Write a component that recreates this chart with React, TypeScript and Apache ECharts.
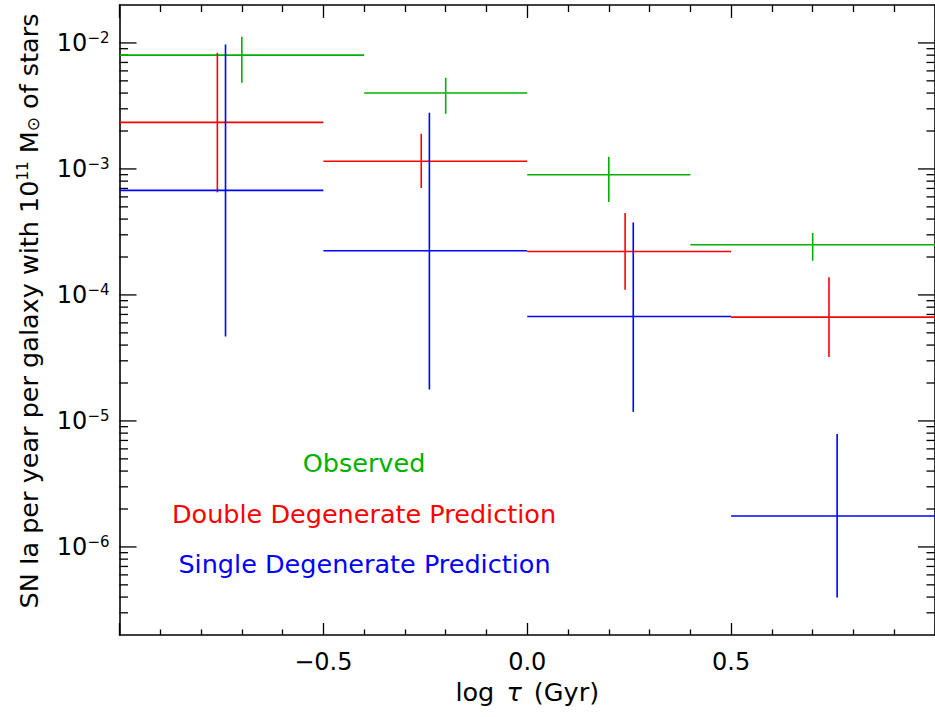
import React, { useEffect, useRef } from 'react';
import * as echarts from 'echarts';

// ---- Data ----
const obsBinStart = [-1.0, -0.4, 0.0, 0.4];
const obsBinEnd = [-0.4, 0.0, 0.4, 1.0];
const obsRate = [8.0e-3, 4.0e-3, 9.0e-4, 2.5e-4];
const obsErrX = [-0.7, -0.2, 0.2, 0.7];
const obsErrLow = [4.83e-3, 2.74e-3, 5.47e-4, 1.87e-4];
const obsErrHigh = [1.12e-2, 5.29e-3, 1.25e-3, 3.1e-4];

const ddBinStart = [-1.0, -0.5, 0.0, 0.5];
const ddBinEnd = [-0.5, 0.0, 0.5, 1.0];
const ddRate = [2.34e-3, 1.15e-3, 2.21e-4, 6.67e-5];
const ddErrX = [-0.76, -0.26, 0.24, 0.74];
const ddErrLow = [6.52e-4, 7.06e-4, 1.1e-4, 3.21e-5];
const ddErrHigh = [8.36e-3, 1.9e-3, 4.47e-4, 1.38e-4];

const sdBinStart = [-1.0, -0.5, 0.0, 0.5];
const sdBinEnd = [-0.5, 0.0, 0.5, 1.0];
const sdRate = [6.76e-4, 2.24e-4, 6.74e-5, 1.76e-6];
const sdErrX = [-0.74, -0.24, 0.26, 0.76];
const sdErrLow = [4.67e-5, 1.78e-5, 1.18e-5, 3.96e-7];
const sdErrHigh = [9.73e-3, 2.79e-3, 3.76e-4, 7.87e-6];

// ---- Axis ticks / labels ----
const xMin = -1;
const xMax = 1;
const xTickLabelValues = [-0.5, 0, 0.5];
const yMin = 2e-7;
const yMax = 2e-2;
const yMajorExponents = [-6, -5, -4, -3, -2];
const yMinorMantissas = [2, 3, 4, 5, 6, 7, 8, 9];
const yMinorExponents = [-7, -6, -5, -4, -3, -2];

const seriesNames = ['Observed', 'Double Degenerate Prediction', 'Single Degenerate Prediction'];
const seriesColors = ['#00b000', '#ff0000', '#0000ff'];

const FONT = 'DejaVu Sans';
const MINUS = '\u2212';

function rows(start: number[], end: number[], rate: number[], ex: number[], lo: number[], hi: number[]) {
  return start.map((s, i) => [s, end[i], rate[i], ex[i], lo[i], hi[i]]);
}

function binSeries(name: string, color: string, data: number[][]) {
  return {
    type: 'custom',
    name,
    xAxisIndex: 0,
    yAxisIndex: 0,
    silent: true,
    encode: { x: [0, 1, 3], y: [2, 4, 5] },
    data,
    renderItem: (params: any, api: any) => {
      const a = api.coord([api.value(0), api.value(2)]);
      const b = api.coord([api.value(1), api.value(2)]);
      const lo = api.coord([api.value(3), api.value(4)]);
      const hi = api.coord([api.value(3), api.value(5)]);
      return {
        type: 'group',
        children: [
          { type: 'line', shape: { x1: a[0], y1: a[1], x2: b[0], y2: b[1] }, style: { stroke: color, lineWidth: 1.6 } },
          { type: 'line', shape: { x1: lo[0], y1: lo[1], x2: hi[0], y2: hi[1] }, style: { stroke: color, lineWidth: 1.6 } },
        ],
      };
    },
  };
}

const yTickSeries = {
  type: 'custom',
  xAxisIndex: 0,
  yAxisIndex: 0,
  silent: true,
  encode: { x: 0, y: 1 },
  data: [[0, 1e-3]],
  renderItem: (params: any, api: any) => {
    const children: any[] = [];
    const add = (v: number, len: number) => {
      const l = api.coord([xMin, v]);
      const r = api.coord([xMax, v]);
      children.push({ type: 'line', shape: { x1: l[0], y1: l[1], x2: l[0] + len, y2: l[1] }, style: { stroke: '#000', lineWidth: 1.3 } });
      children.push({ type: 'line', shape: { x1: r[0] - len, y1: r[1], x2: r[0], y2: r[1] }, style: { stroke: '#000', lineWidth: 1.3 } });
    };
    yMajorExponents.forEach((e) => add(Math.pow(10, e), 17));
    yMinorExponents.forEach((e) => {
      yMinorMantissas.forEach((m) => {
        const v = m * Math.pow(10, e);
        if (v > yMin * 1.0001 && v < yMax * 0.9999) add(v, 8.5);
      });
    });
    return { type: 'group', children };
  },
};

export default function App() {
  const ref = useRef<HTMLDivElement>(null);
  useEffect(() => {
    if (!ref.current) return;
    const chart = echarts.init(ref.current, null, { renderer: 'svg' });
    const xLabel = (v: number) => {
      if (!xTickLabelValues.some((t) => Math.abs(t - v) < 1e-9)) return '';
      const s = Math.abs(v).toFixed(1);
      return v < 0 ? MINUS + s : s;
    };
    const yLabel = (v: number) => {
      const e = Math.log10(v);
      const r = Math.round(e);
      if (Math.abs(e - r) > 1e-6 || !yMajorExponents.includes(r)) return '';
      return `{b|10}{s|${r < 0 ? MINUS + Math.abs(r) : r}}`;
    };
    const axisLineStyle = { color: '#000', width: 1.6 };
    const option: any = {
      animation: false,
      backgroundColor: '#fff',
      grid: { left: 119.5, top: 5, width: 820, height: 630, containLabel: false },
      xAxis: [
        {
          type: 'value',
          position: 'bottom',
          min: xMin,
          max: xMax,
          interval: 0.5,
          axisLine: { show: true, onZero: false, lineStyle: axisLineStyle },
          axisTick: { show: true, inside: true, length: 12, lineStyle: { color: '#000', width: 1.3 } },
          minorTick: { show: true, splitNumber: 5, length: 5.5, lineStyle: { color: '#000', width: 1.3 } },
          splitLine: { show: false },
          minorSplitLine: { show: false },
          axisLabel: { formatter: xLabel, fontFamily: FONT, fontSize: 24, color: '#000', margin: 15, showMinLabel: false, showMaxLabel: false },
          name: '{n|log }{i|\u03c4}{n| (Gyr)}',
          nameLocation: 'middle',
          nameGap: 38,
          nameTextStyle: {
            rich: {
              n: { fontFamily: FONT, fontSize: 25.5, color: '#000' },
              i: { fontFamily: FONT, fontSize: 25.5, color: '#000', fontStyle: 'italic', padding: [0, 4, 0, 4] },
            },
          },
        },
        {
          type: 'value',
          position: 'top',
          min: xMin,
          max: xMax,
          interval: 0.5,
          axisLine: { show: true, onZero: false, lineStyle: axisLineStyle },
          axisTick: { show: true, inside: true, length: 13, lineStyle: { color: '#000', width: 1.3 } },
          minorTick: { show: true, splitNumber: 5, length: 7, lineStyle: { color: '#000', width: 1.3 } },
          splitLine: { show: false },
          minorSplitLine: { show: false },
          axisLabel: { show: false },
        },
      ],
      yAxis: [
        {
          type: 'log',
          logBase: 10,
          position: 'left',
          min: yMin,
          max: yMax,
          axisLine: { show: true, onZero: false, lineStyle: axisLineStyle },
          axisTick: { show: false },
          minorTick: { show: false },
          splitLine: { show: false },
          minorSplitLine: { show: false },
          axisLabel: {
            formatter: yLabel,
            margin: 10,
            showMinLabel: false,
            showMaxLabel: false,
            rich: {
              b: { fontFamily: FONT, fontSize: 24, color: '#000', lineHeight: 24 },
              s: { fontFamily: FONT, fontSize: 15, color: '#000', verticalAlign: 'top', lineHeight: 6 },
            },
          },
          name: '{n|SN Ia per year per galaxy with 10}{s|11}{n| M}{u|\u2299}{n| of stars}',
          nameLocation: 'middle',
          nameGap: 78,
          nameRotate: 90,
          nameTextStyle: {
            padding: [0, 0, 0, 18],
            rich: {
              n: { fontFamily: FONT, fontSize: 25.5, color: '#000', lineHeight: 26 },
              s: { fontFamily: FONT, fontSize: 15, color: '#000', verticalAlign: 'top', lineHeight: 6 },
              u: { fontFamily: FONT, fontSize: 17, color: '#000', verticalAlign: 'bottom', lineHeight: 14 },
            },
          },
        },
        {
          type: 'log',
          logBase: 10,
          position: 'right',
          min: yMin,
          max: yMax,
          axisLine: { show: true, onZero: false, lineStyle: axisLineStyle },
          axisTick: { show: false },
          splitLine: { show: false },
          axisLabel: { show: false },
        },
      ],
      graphic: [
        { type: 'text', x: 364, y: 463, style: { text: seriesNames[0], fill: seriesColors[0], font: `25.5px "${FONT}"`, textAlign: 'center', textVerticalAlign: 'middle' } },
        { type: 'text', x: 364, y: 514, style: { text: seriesNames[1], fill: seriesColors[1], font: `25.5px "${FONT}"`, textAlign: 'center', textVerticalAlign: 'middle' } },
        { type: 'text', x: 364.5, y: 564, style: { text: seriesNames[2], fill: seriesColors[2], font: `25.5px "${FONT}"`, textAlign: 'center', textVerticalAlign: 'middle' } },
      ],
      series: [
        yTickSeries,
        binSeries(seriesNames[0], seriesColors[0], rows(obsBinStart, obsBinEnd, obsRate, obsErrX, obsErrLow, obsErrHigh)),
        binSeries(seriesNames[1], seriesColors[1], rows(ddBinStart, ddBinEnd, ddRate, ddErrX, ddErrLow, ddErrHigh)),
        binSeries(seriesNames[2], seriesColors[2], rows(sdBinStart, sdBinEnd, sdRate, sdErrX, sdErrLow, sdErrHigh)),
      ],
    };
    chart.setOption(option);
    return () => chart.dispose();
  }, []);
  return <div ref={ref} style={{ position: 'absolute', left: 0, top: 0, width: 935, height: 717, background: '#fff' }} />;
}
